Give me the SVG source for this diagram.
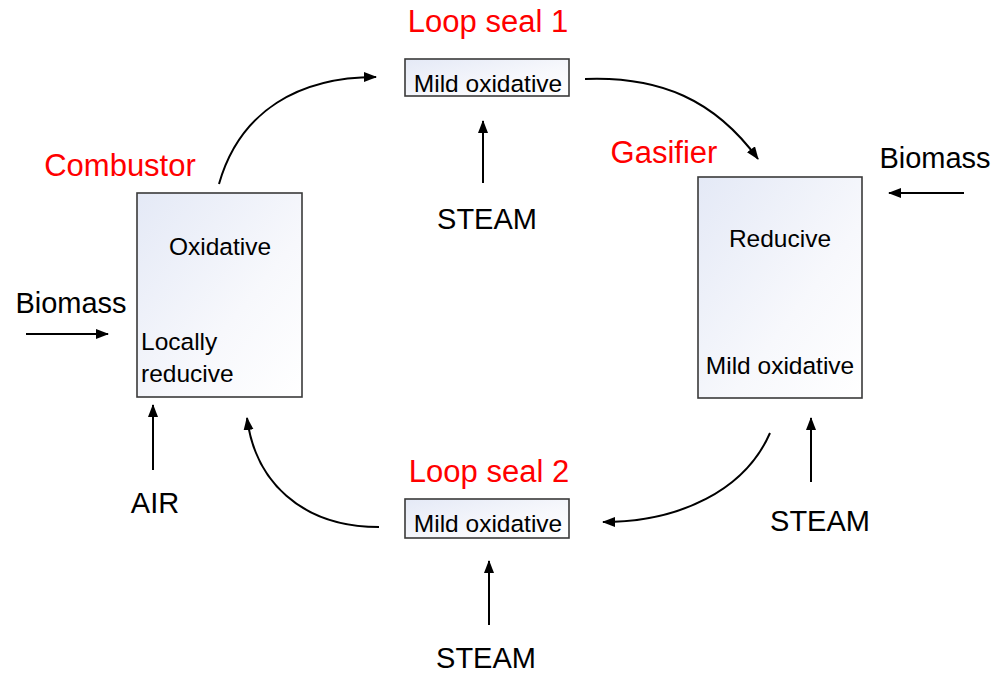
<svg xmlns="http://www.w3.org/2000/svg" width="996" height="674" viewBox="0 0 996 674">
<style>
.box{fill:url(#g);stroke:#3a3a3a;stroke-width:1.6}
.red{font-family:"Liberation Sans",Arial,sans-serif;font-size:31px;fill:#ff0000;text-anchor:middle}
.lbl{font-family:"Liberation Sans",Arial,sans-serif;font-size:29px;fill:#000;text-anchor:middle}
.in{font-family:"Liberation Sans",Arial,sans-serif;font-size:24.5px;fill:#000}
.c{text-anchor:middle}
.arr{fill:none;stroke:#000;stroke-width:2;marker-end:url(#ah)}
</style>
<defs>
<linearGradient id="g" x1="0" y1="0" x2="1" y2="1">
<stop offset="0" stop-color="#e4e9f6"/>
<stop offset="0.6" stop-color="#f7f8fc"/>
<stop offset="1" stop-color="#ffffff"/>
</linearGradient>
<marker id="ah" markerWidth="13" markerHeight="11" refX="12" refY="5" orient="auto" markerUnits="userSpaceOnUse">
<path d="M0,0 L13,5 L0,10 z" fill="#000"/>
</marker>
</defs>
<rect width="996" height="674" fill="#fff"/>
<g id="combustor">
<rect class="box" x="137" y="193" width="165" height="204"/>
<text class="in c" x="220" y="255">Oxidative</text>
<text class="in" x="141" y="350">Locally</text>
<text class="in" x="141" y="382">reducive</text>
<text class="red" x="120" y="176">Combustor</text>
</g>
<g id="loopseal1">
<rect class="box" x="405" y="59" width="164" height="37"/>
<text class="in c" x="488" y="92">Mild oxidative</text>
<text class="red" x="488" y="32">Loop seal 1</text>
</g>
<g id="gasifier">
<rect class="box" x="698" y="177" width="164" height="221"/>
<text class="in c" x="780" y="247">Reducive</text>
<text class="in c" x="780" y="374">Mild oxidative</text>
<text class="red" x="664" y="163">Gasifier</text>
</g>
<g id="loopseal2">
<rect class="box" x="405" y="499" width="164" height="39"/>
<text class="in c" x="488" y="532">Mild oxidative</text>
<text class="red" x="489" y="482">Loop seal 2</text>
</g>
<g id="labels">
<text class="lbl" x="487" y="229">STEAM</text>
<text class="lbl" x="935" y="168">Biomass</text>
<text class="lbl" x="71" y="313">Biomass</text>
<text class="lbl" x="155" y="513">AIR</text>
<text class="lbl" x="820" y="531">STEAM</text>
<text class="lbl" x="486" y="668">STEAM</text>
</g>
<g id="connectors">
<path class="arr" d="M219,184 C240,110 300,77 376,77"/>
<path class="arr" d="M585,79 C660,76 715,100 758,159"/>
<path class="arr" d="M770,433 C745,490 680,522 603,522"/>
<path class="arr" d="M379,527 C300,527 255,480 247,418"/>
<path class="arr" d="M26,334 L108,334"/>
<path class="arr" d="M153,470 L153,405"/>
<path class="arr" d="M483,183 L483,121"/>
<path class="arr" d="M964,193 L889,193"/>
<path class="arr" d="M811,482 L811,418"/>
<path class="arr" d="M489,625 L489,561"/>
</g>
</svg>
